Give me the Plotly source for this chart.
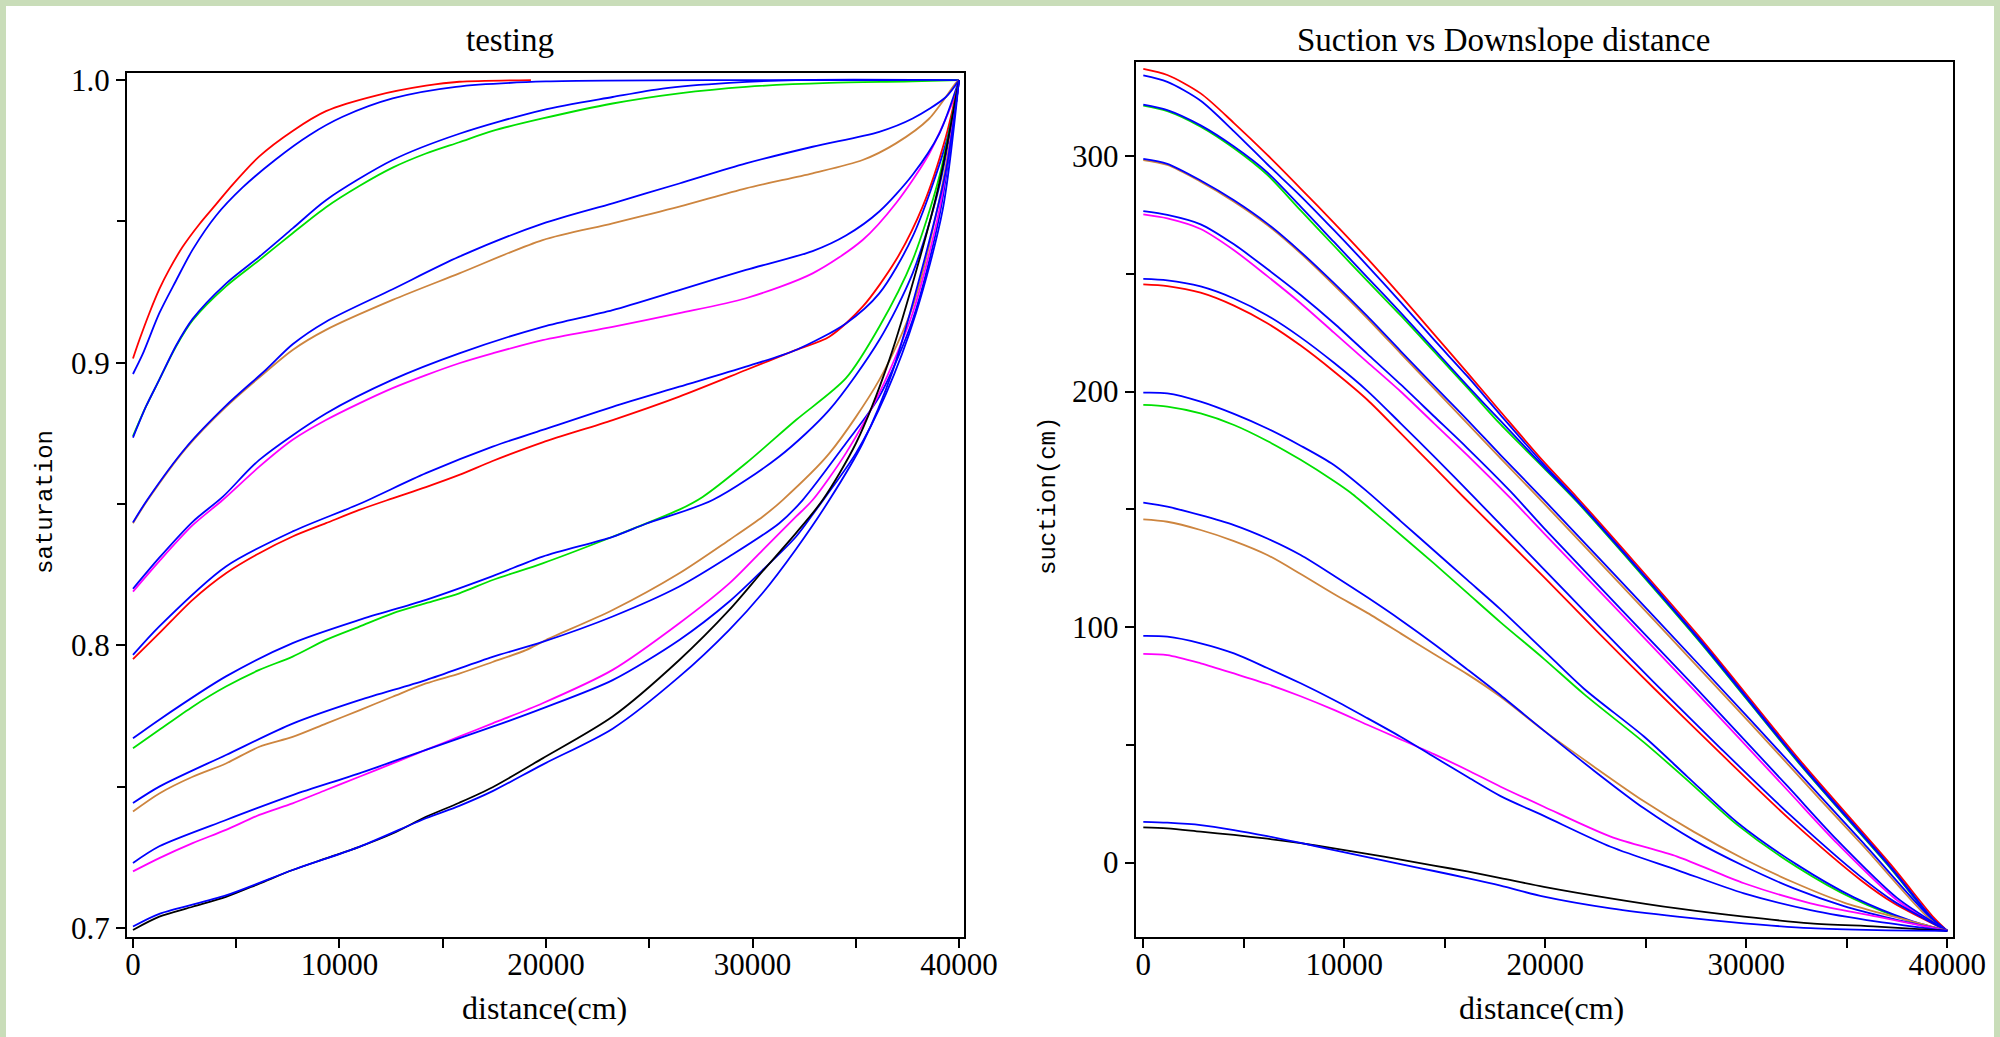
import plotly.graph_objects as go

# ---------------- Left chart: saturation vs distance ----------------
SAT_RED1_X = [0, 307, 791, 1275, 1759, 2405, 3212, 4019, 4826, 6117, 7731, 9345, 11766, 14187, 15801, 19271]
SAT_RED1_Y = [0.9015, 0.908, 0.9175, 0.926, 0.933, 0.941, 0.949, 0.956, 0.963, 0.973, 0.982, 0.989, 0.9945, 0.998, 0.9994, 1.0]
SAT_BLUE1_X = [0, 468, 1275, 2082, 2889, 4019, 5310, 6924, 8538, 10152, 12573, 15640, 20000, 30000, 40000]
SAT_BLUE1_Y = [0.896, 0.903, 0.9175, 0.929, 0.940, 0.952, 0.962, 0.972, 0.9805, 0.987, 0.9935, 0.9976, 0.9995, 1.0, 1.0]

SAT_GREEN2_X = [0, 630, 1275, 2082, 2889, 4503, 6117, 7731, 9345, 10959, 12573, 14187, 15801, 17415, 19836, 23228, 26456, 29684, 33719, 37754, 40000]
SAT_GREEN2_Y = [0.874, 0.8845, 0.894, 0.9057, 0.915, 0.927, 0.9363, 0.9458, 0.955, 0.9625, 0.969, 0.974, 0.978, 0.982, 0.9864, 0.9917, 0.9953, 0.9976, 0.999, 0.9995, 1.0]
SAT_BLUE2_X = [0, 630, 1275, 2082, 2889, 4503, 6117, 7731, 9345, 12573, 15801, 19836, 23228, 25649, 28877, 32105, 40000]
SAT_BLUE2_Y = [0.8735, 0.8845, 0.894, 0.906, 0.9155, 0.928, 0.9375, 0.9475, 0.9575, 0.9717, 0.981, 0.9894, 0.994, 0.997, 0.999, 1.0, 1.0]

SAT_BROWN3_X = [0, 710, 2566, 4503, 6440, 7731, 9345, 12573, 15801, 19836, 23228, 26456, 29684, 32912, 35333, 36947, 38561, 39852, 40000]
SAT_BROWN3_Y = [0.8432, 0.8514, 0.8697, 0.8844, 0.8968, 0.9045, 0.9116, 0.9222, 0.9316, 0.9434, 0.9493, 0.9552, 0.9617, 0.967, 0.9717, 0.9776, 0.9864, 0.999, 1.0]
SAT_BLUE3_X = [0, 710, 2566, 4503, 6440, 7731, 9345, 12573, 15801, 19836, 23228, 26456, 29684, 32912, 36140, 37754, 39368, 40000]
SAT_BLUE3_Y = [0.8435, 0.8517, 0.870, 0.8848, 0.8975, 0.9065, 0.9145, 0.926, 0.9375, 0.9492, 0.9564, 0.9634, 0.9705, 0.9764, 0.9817, 0.9864, 0.994, 1.0]

SAT_MAG4_X = [0, 1275, 2889, 4342, 6117, 7731, 9345, 10959, 12573, 14187, 15801, 17415, 19836, 23228, 26456, 29684, 32912, 35333, 36947, 38561, 39852, 40000]
SAT_MAG4_Y = [0.819, 0.8298, 0.8425, 0.8514, 0.8632, 0.8727, 0.8797, 0.8856, 0.891, 0.8956, 0.8998, 0.9033, 0.908, 0.9127, 0.9175, 0.9228, 0.9316, 0.9434, 0.9564, 0.974, 0.9953, 1.0]
SAT_BLUE4_X = [0, 1275, 2889, 4342, 6117, 9345, 12573, 15801, 19836, 23228, 26456, 29684, 32912, 34526, 36140, 37754, 39045, 40000]
SAT_BLUE4_Y = [0.820, 0.831, 0.8437, 0.8525, 0.8656, 0.882, 0.894, 0.9033, 0.9127, 0.9186, 0.9257, 0.9328, 0.9395, 0.945, 0.9535, 0.9665, 0.981, 1.0]

SAT_RED5_X = [0, 1275, 2889, 4503, 6117, 7731, 9345, 10959, 12573, 14187, 15801, 17415, 19836, 23228, 26456, 29684, 32105, 33719, 35333, 36947, 38238, 39368, 40000]
SAT_RED5_Y = [0.7951, 0.8043, 0.8161, 0.8255, 0.8326, 0.8385, 0.8432, 0.8479, 0.852, 0.856, 0.8603, 0.8652, 0.8718, 0.8797, 0.888, 0.8974, 0.9045, 0.9092, 0.9198, 0.9363, 0.9552, 0.98, 1.0]
SAT_BLUE5_X = [0, 1275, 4503, 7731, 10959, 14187, 17415, 19836, 23228, 26456, 29684, 32105, 34526, 36140, 37754, 39368, 40000]
SAT_BLUE5_Y = [0.7966, 0.8067, 0.8279, 0.8403, 0.850, 0.8609, 0.8703, 0.8762, 0.8844, 0.8915, 0.8986, 0.9045, 0.9139, 0.9245, 0.9446, 0.9776, 1.0]

SAT_GREEN6_X = [0, 1275, 2889, 4503, 6117, 7731, 9345, 10959, 12573, 14187, 15801, 17415, 19836, 23228, 26456, 27586, 29684, 32105, 34526, 36140, 37754, 39045, 40000]
SAT_GREEN6_Y = [0.7636, 0.7701, 0.7783, 0.7854, 0.7913, 0.796, 0.8019, 0.8066, 0.8113, 0.8149, 0.8184, 0.8231, 0.829, 0.8384, 0.848, 0.8525, 0.8644, 0.8797, 0.8945, 0.9127, 0.9363, 0.9658, 1.0]
SAT_BLUE6_X = [0, 1275, 4503, 7731, 10959, 14187, 17415, 19836, 23228, 24842, 28070, 31298, 33719, 36140, 37754, 39045, 40000]
SAT_BLUE6_Y = [0.7671, 0.7737, 0.789, 0.8008, 0.809, 0.8161, 0.8245, 0.8314, 0.8384, 0.843, 0.8514, 0.8668, 0.8833, 0.908, 0.9316, 0.9623, 1.0]

SAT_BROWN7_X = [0, 1275, 2889, 4503, 6117, 7731, 9345, 10959, 12573, 14187, 15801, 17415, 19029, 20000, 23228, 26456, 28877, 30491, 31459, 33719, 36140, 37754, 39045, 39852, 40000]
SAT_BROWN7_Y = [0.7412, 0.7476, 0.7535, 0.7582, 0.7641, 0.7676, 0.7723, 0.777, 0.7818, 0.7865, 0.79, 0.7941, 0.7983, 0.8019, 0.8125, 0.8255, 0.8373, 0.8455, 0.8514, 0.8679, 0.8939, 0.9198, 0.9576, 0.9917, 1.0]
SAT_BLUE7_X = [0, 1275, 4503, 7731, 10959, 14187, 17415, 19836, 23228, 26456, 28877, 31298, 32428, 34526, 36140, 37754, 39045, 40000]
SAT_BLUE7_Y = [0.7442, 0.75, 0.7612, 0.7723, 0.7806, 0.7877, 0.7959, 0.8012, 0.8102, 0.8208, 0.8314, 0.8432, 0.8514, 0.8715, 0.888, 0.9151, 0.9517, 1.0]

SAT_MAG8_X = [0, 1275, 2889, 4503, 6117, 7731, 9345, 10959, 12573, 14187, 15801, 17415, 19836, 23228, 26456, 28877, 30491, 32105, 32912, 34526, 36140, 37754, 39045, 39852, 40000]
SAT_MAG8_Y = [0.72, 0.7247, 0.73, 0.7347, 0.74, 0.7441, 0.7488, 0.7535, 0.7582, 0.763, 0.7677, 0.7724, 0.7795, 0.7913, 0.8078, 0.8219, 0.8337, 0.8455, 0.8514, 0.868, 0.8892, 0.9175, 0.954, 0.9917, 1.0]
SAT_BLUE8_X = [0, 1275, 4503, 7731, 10959, 14187, 17415, 19836, 23228, 26456, 28877, 30491, 32105, 33073, 35010, 36463, 37915, 39207, 40000]
SAT_BLUE8_Y = [0.723, 0.7289, 0.7382, 0.747, 0.7547, 0.763, 0.7712, 0.7777, 0.7877, 0.8019, 0.8155, 0.8266, 0.8384, 0.8479, 0.868, 0.889, 0.9175, 0.954, 1.0]

SAT_BLACK9_X = [0, 1275, 2889, 4503, 6117, 7731, 9345, 10959, 12573, 14187, 15801, 17415, 19836, 23228, 26456, 28877, 30491, 32105, 33396, 35010, 36624, 38077, 39045, 40000]
SAT_BLACK9_Y = [0.6993, 0.704, 0.7075, 0.711, 0.7157, 0.7205, 0.7246, 0.7287, 0.7334, 0.7393, 0.7443, 0.7498, 0.76, 0.7748, 0.7948, 0.8125, 0.8262, 0.8397, 0.8514, 0.8715, 0.901, 0.9363, 0.9635, 1.0]
SAT_BLUE9_X = [0, 1275, 4503, 7731, 10959, 14187, 15801, 17415, 19836, 23228, 26456, 28877, 30491, 32105, 33719, 35333, 36786, 38238, 39368, 40000]
SAT_BLUE9_Y = [0.7005, 0.705, 0.7115, 0.7205, 0.7287, 0.7388, 0.7432, 0.7484, 0.7578, 0.7705, 0.7889, 0.8055, 0.8185, 0.834, 0.8514, 0.8715, 0.897, 0.934, 0.968, 1.0]

# ---------------- Right chart: suction vs distance ----------------
SUC_X_TOP = [0, 1195, 2853, 4511, 6170, 7828, 9486, 11144, 12802, 14460, 16118, 17776, 19931, 21593, 27562, 32700, 37180, 39330, 40000]
SUC_RED1_Y = [337, 334.4, 326.6, 314, 300.5, 286.2, 271.6, 256.5, 240.7, 224.4, 208, 191.4, 170.1, 154.9, 96.9, 43.1, -0.8, -23.4, -29]
SUC_BLUE1_Y = [334.2, 331.5, 323.5, 310.5, 296.5, 283, 268.5, 253.5, 238, 222, 206.5, 190, 169, 153.9, 95.9, 42.1, -1.8, -24.4, -29]
SUC_GREEN2_Y = [321.4, 319.1, 312.5, 303.3, 292, 276.9, 261.9, 247, 232.3, 217, 201.7, 186, 167.5, 153, 95, 41.3, -2.5, -24.8, -29]
SUC_BLUE2_Y = [321.8, 319.5, 313, 304, 293, 278.5, 263.5, 248.5, 233.5, 218, 202.5, 187.5, 168, 153.5, 95.4, 41.7, -2.2, -24.6, -29]

SUC_X3 = [0, 1195, 2853, 4511, 6170, 7828, 9486, 11144, 12802, 14460, 16118, 17776, 19931, 25400, 30215, 33700, 35850, 39000, 40000]
SUC_BROWN3_Y = [298.3, 296.2, 289.1, 280.6, 270.7, 258.7, 245.2, 231.1, 216.2, 201.3, 186.5, 171.6, 152.5, 103, 59, 26.5, 6.7, -23, -29]
SUC_BLUE3_Y = [298.8, 296.7, 289.6, 281.2, 271.3, 259.3, 246, 232, 217.2, 202.5, 188, 173, 154, 104.5, 60.5, 28, 8, -22, -29]

SUC_X4 = [0, 1195, 2853, 4511, 6170, 7828, 9486, 11144, 12802, 14460, 16118, 18280, 19935, 27400, 32040, 34525, 37500, 40000]
SUC_MAG4_Y = [275.2, 273.5, 269, 260, 249, 237.5, 225, 212.5, 200, 186.5, 173, 154.6, 139.8, 73.2, 30.8, 8.1, -16, -29]
SUC_BLUE4_Y = [276.6, 275, 271, 262.5, 252, 241, 229, 216, 203, 189.5, 176, 157.5, 142, 75, 32.5, 9.5, -15, -29]

SUC_X5 = [0, 1195, 2853, 4511, 6170, 7828, 9486, 11144, 12802, 14460, 15955, 19935, 22588, 25406, 28722, 32204, 35686, 37344, 40000]
SUC_RED5_Y = [245.5, 244.8, 242, 236.5, 229, 219.5, 208.5, 196.5, 182.3, 168, 155, 121.2, 98, 74, 46.3, 18, -7.4, -17.3, -29]
SUC_BLUE5_Y = [247.8, 247.2, 244.6, 239.5, 232.3, 223, 212.2, 200.3, 186.5, 172.5, 159.5, 124.5, 101, 76.5, 48.5, 20, -6, -16.5, -29]

SUC_GREEN6_X = [0, 1195, 2853, 4511, 6170, 7828, 9486, 10320, 12136, 14460, 16118, 17776, 19931, 21925, 24909, 27064, 29551, 32536, 35354, 38173, 40000]
SUC_GREEN6_Y = [194.3, 193.6, 190.7, 185.8, 179, 171, 162, 157, 144, 127, 114.5, 102, 86.5, 71.5, 51, 35, 16, -2, -15.5, -25, -29]
SUC_BLUE6_X = [0, 1195, 2853, 4511, 6170, 7828, 9486, 11144, 12802, 14460, 16118, 17776, 19931, 21925, 24909, 27064, 29551, 32536, 35354, 38173, 40000]
SUC_BLUE6_Y = [199.5, 199.2, 195.7, 190.5, 184.3, 177, 168.8, 157.5, 145, 132.5, 120, 107.5, 90, 73.8, 53.5, 36.5, 17, -1, -14.8, -24.7, -29]

SUC_X7 = [0, 1195, 2853, 4511, 6170, 7828, 9486, 11144, 12802, 14460, 16118, 17776, 19931, 22422, 24909, 27396, 29883, 32370, 34857, 37344, 40000]
SUC_BROWN7_Y = [145.7, 144.7, 141.2, 136.5, 130.6, 122.5, 114, 106, 97.3, 88.5, 80, 70.4, 56, 40.7, 26, 13, 1.5, -8.5, -17, -23, -29]
SUC_BLUE7_Y = [152.8, 151.1, 147.5, 143.3, 137.6, 130.6, 121.8, 112.6, 103, 92.8, 82, 71, 56, 39, 23, 9.5, -1.5, -11, -18.5, -24, -29]

SUC_X89 = [0, 1195, 2853, 4511, 6170, 7828, 9486, 11144, 12802, 14460, 16118, 17776, 19931, 23251, 26567, 29883, 33199, 36515, 40000]
SUC_MAG8_Y = [88.6, 88.1, 84.6, 80.3, 75.8, 70.6, 64.8, 58.5, 52.3, 46, 39.3, 32.2, 23.7, 11, 2.5, -8.8, -17.3, -23, -29]
SUC_BLUE8_Y = [96.2, 95.9, 93.1, 88.8, 82.6, 76.1, 69, 61.3, 53.4, 44.9, 36.4, 28.2, 19.8, 6.7, -3.2, -13.1, -20.2, -25.1, -29]
SUC_BLACK9_Y = [14.9, 14.5, 13.1, 11.7, 10.1, 8.2, 6, 3.7, 1.2, -1.3, -3.8, -6.6, -10.3, -15.2, -19.5, -23, -25.8, -27.2, -29]
SUC_BLUE9_Y = [17.3, 16.9, 15.9, 13.8, 11.2, 8.3, 5.3, 2.3, -0.7, -3.6, -6.6, -9.8, -14.5, -19.5, -23, -25.8, -27.9, -28.7, -29]

X_TICKS = [0, 10000, 20000, 30000, 40000]
SAT_TICKS = [0.7, 0.8, 0.9, 1.0]
SUC_TICKS = [0, 100, 200, 300]

RED, BLUE, GREEN, BROWN, MAG, BLACK = "#ff0000", "#0000ff", "#00e000", "#cd853f", "#ff00ff", "#000000"

left_pairs = [
    (SAT_RED1_X, SAT_RED1_Y, RED, SAT_BLUE1_X, SAT_BLUE1_Y),
    (SAT_GREEN2_X, SAT_GREEN2_Y, GREEN, SAT_BLUE2_X, SAT_BLUE2_Y),
    (SAT_BROWN3_X, SAT_BROWN3_Y, BROWN, SAT_BLUE3_X, SAT_BLUE3_Y),
    (SAT_MAG4_X, SAT_MAG4_Y, MAG, SAT_BLUE4_X, SAT_BLUE4_Y),
    (SAT_RED5_X, SAT_RED5_Y, RED, SAT_BLUE5_X, SAT_BLUE5_Y),
    (SAT_GREEN6_X, SAT_GREEN6_Y, GREEN, SAT_BLUE6_X, SAT_BLUE6_Y),
    (SAT_BROWN7_X, SAT_BROWN7_Y, BROWN, SAT_BLUE7_X, SAT_BLUE7_Y),
    (SAT_MAG8_X, SAT_MAG8_Y, MAG, SAT_BLUE8_X, SAT_BLUE8_Y),
    (SAT_BLACK9_X, SAT_BLACK9_Y, BLACK, SAT_BLUE9_X, SAT_BLUE9_Y),
]
right_pairs = [
    (SUC_X_TOP, SUC_RED1_Y, RED, SUC_X_TOP, SUC_BLUE1_Y),
    (SUC_X_TOP, SUC_GREEN2_Y, GREEN, SUC_X_TOP, SUC_BLUE2_Y),
    (SUC_X3, SUC_BROWN3_Y, BROWN, SUC_X3, SUC_BLUE3_Y),
    (SUC_X4, SUC_MAG4_Y, MAG, SUC_X4, SUC_BLUE4_Y),
    (SUC_X5, SUC_RED5_Y, RED, SUC_X5, SUC_BLUE5_Y),
    (SUC_GREEN6_X, SUC_GREEN6_Y, GREEN, SUC_BLUE6_X, SUC_BLUE6_Y),
    (SUC_X7, SUC_BROWN7_Y, BROWN, SUC_X7, SUC_BLUE7_Y),
    (SUC_X89, SUC_MAG8_Y, MAG, SUC_X89, SUC_BLUE8_Y),
    (SUC_X89, SUC_BLACK9_Y, BLACK, SUC_X89, SUC_BLUE9_Y),
]

fig = go.Figure()
LW = 1.8
LINE = dict(width=LW, shape="spline", smoothing=0.8)
for (cx, cy, col, bx, by) in left_pairs:
    fig.add_trace(go.Scatter(x=cx, y=cy, mode="lines", line=dict(color=col, **LINE),
                             xaxis="x", yaxis="y", showlegend=False, hoverinfo="skip"))
    fig.add_trace(go.Scatter(x=bx, y=by, mode="lines", line=dict(color=BLUE, **LINE),
                             xaxis="x", yaxis="y", showlegend=False, hoverinfo="skip"))
for (cx, cy, col, bx, by) in right_pairs:
    fig.add_trace(go.Scatter(x=cx, y=cy, mode="lines", line=dict(color=col, **LINE),
                             xaxis="x2", yaxis="y2", showlegend=False, hoverinfo="skip"))
    fig.add_trace(go.Scatter(x=bx, y=by, mode="lines", line=dict(color=BLUE, **LINE),
                             xaxis="x2", yaxis="y2", showlegend=False, hoverinfo="skip"))

W, H = 2000, 1037
SERIF = "Liberation Serif, Times New Roman, serif"
MONO = "Liberation Mono, Courier New, monospace"
TICKFONT = dict(family=SERIF, size=31, color="black")

def px_x(p):
    return p / W

def px_y(p):
    return (H - p) / H

common_axis = dict(showline=True, mirror=True, linecolor="black", linewidth=2, showgrid=False, zeroline=False,
                   ticks="outside", ticklen=9, tickwidth=1.5, tickcolor="black", tickfont=TICKFONT,
                   automargin=False, fixedrange=True)

fig.update_layout(
    template=None,
    width=W, height=H, margin=dict(l=0, r=0, t=0, b=0, pad=0), autosize=False,
    paper_bgcolor="#c9ddb9", plot_bgcolor="white",
    xaxis=dict(domain=[px_x(127), px_x(964)], range=[-290, 40242], anchor="y", tickvals=X_TICKS,
               tickformat="d", ticklabelstandoff=-10,
               minor=dict(dtick=5000, tick0=0, ticks="outside", ticklen=9, tickcolor="black", tickwidth=1.5),
               **common_axis),
    yaxis=dict(domain=[px_y(936.7), px_y(72.7)], range=[0.6969, 1.0026], anchor="x", tickvals=SAT_TICKS,
               tickformat=".1f", minor=dict(dtick=0.05, tick0=0.7, ticks="outside", ticklen=8, tickcolor="black", tickwidth=1.5),
               **common_axis),
    xaxis2=dict(domain=[px_x(1135.7), px_x(1953.3)], range=[-378, 40299], anchor="y2", tickvals=X_TICKS,
                tickformat="d", ticklabelstandoff=-10,
                minor=dict(dtick=5000, tick0=0, ticks="outside", ticklen=9, tickcolor="black", tickwidth=1.5),
                **common_axis),
    yaxis2=dict(domain=[px_y(936.7), px_y(62.3)], range=[-31.5, 339.8], anchor="x2", tickvals=SUC_TICKS,
                tickformat="d", minor=dict(dtick=50, tick0=0, ticks="outside", ticklen=8, tickcolor="black", tickwidth=1.5),
                **common_axis),
    shapes=[dict(type="rect", xref="paper", yref="paper", x0=px_x(6), x1=px_x(1994), y0=0, y1=px_y(6),
                 fillcolor="white", line=dict(width=0), layer="below")],
)

ann = [
    dict(text="testing", x=px_x(510), y=px_y(39.5), font=dict(family=SERIF, size=33, color="black")),
    dict(text="Suction vs Downslope distance", x=px_x(1503), y=px_y(39.5), font=dict(family=SERIF, size=33, color="black")),
    dict(text="distance(cm)", x=px_x(544), y=px_y(1008), font=dict(family=SERIF, size=32, color="black")),
    dict(text="distance(cm)", x=px_x(1541), y=px_y(1008), font=dict(family=SERIF, size=32, color="black")),
    dict(text="saturation", x=px_x(45), y=px_y(502), textangle=-90, font=dict(family=MONO, size=24, color="black")),
    dict(text="suction(cm)", x=px_x(1048), y=px_y(496), textangle=-90, font=dict(family=MONO, size=24, color="black")),
]
for a in ann:
    a.update(xref="paper", yref="paper", showarrow=False, xanchor="center", yanchor="middle")
fig.update_layout(annotations=ann)

fig.write_html("out.html", config=dict(displayModeBar=False, responsive=False),
               post_script="document.body.style.margin='0';document.body.style.overflow='hidden';")
